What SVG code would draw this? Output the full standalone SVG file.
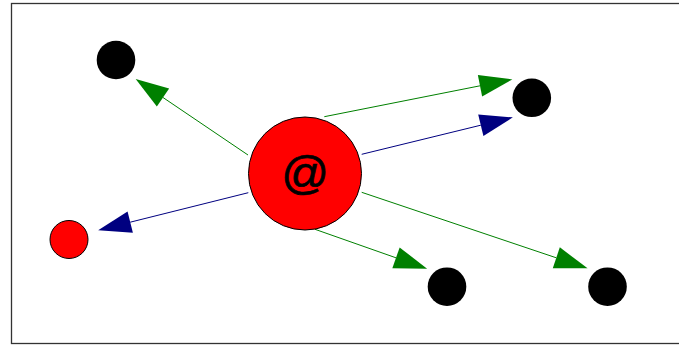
<svg xmlns="http://www.w3.org/2000/svg" width="679" height="345" viewBox="0 0 679 345">
<defs>
<style>
.g{stroke:#008000;stroke-width:1;fill:none}
.b{stroke:#000080;stroke-width:1;fill:none}
.g{marker-end:url(#ag)}
.b{marker-end:url(#ab)}
.blk{fill:#000}
.red{fill:#ff0000;stroke:#000;stroke-width:1}
</style>
<marker id="ag" markerUnits="userSpaceOnUse" markerWidth="34" markerHeight="24" refX="0" refY="11" orient="auto" overflow="visible">
<path d="M0,0 L33,11 L0,22 z" fill="#008000"/>
</marker>
<marker id="ab" markerUnits="userSpaceOnUse" markerWidth="34" markerHeight="24" refX="0" refY="11" orient="auto" overflow="visible">
<path d="M0,0 L33,11 L0,22 z" fill="#000080"/>
</marker>
</defs>
<rect x="0" y="0" width="679" height="345" fill="#fff"/>
<rect x="11.5" y="3.5" width="720" height="340" fill="none" stroke="#333" stroke-width="1.3"/>
<g id="connectors">
<path class="g" d="M248,155 L163,97.5"/>
<path class="g" d="M324.3,116.7 L480,85.8"/>
<path class="b" d="M361.7,154.3 L480.8,125.2"/>
<path class="b" d="M248.3,192.7 L130.2,222.2"/>
<path class="g" d="M361.7,192.3 L556.3,257.8"/>
<path class="g" d="M315,229.3 L396,257.8"/>
</g>
<g id="center"><circle class="red" cx="305" cy="173.5" r="56.5"/><text x="305" y="188.5" text-anchor="middle" font-family="Liberation Sans, Arial, sans-serif" font-size="47" stroke="#000" stroke-width="0.7">@</text></g>
<g id="n-topleft"><circle class="blk" cx="116" cy="60" r="19.3"/></g>
<g id="n-topright"><circle class="blk" cx="531.8" cy="97.8" r="19.3"/></g>
<g id="n-left"><circle class="red" cx="69" cy="239.5" r="19"/></g>
<g id="n-bottom1"><circle class="blk" cx="447" cy="286.7" r="19.3"/></g>
<g id="n-bottom2"><circle class="blk" cx="607.5" cy="286.7" r="19.3"/></g>
</svg>
